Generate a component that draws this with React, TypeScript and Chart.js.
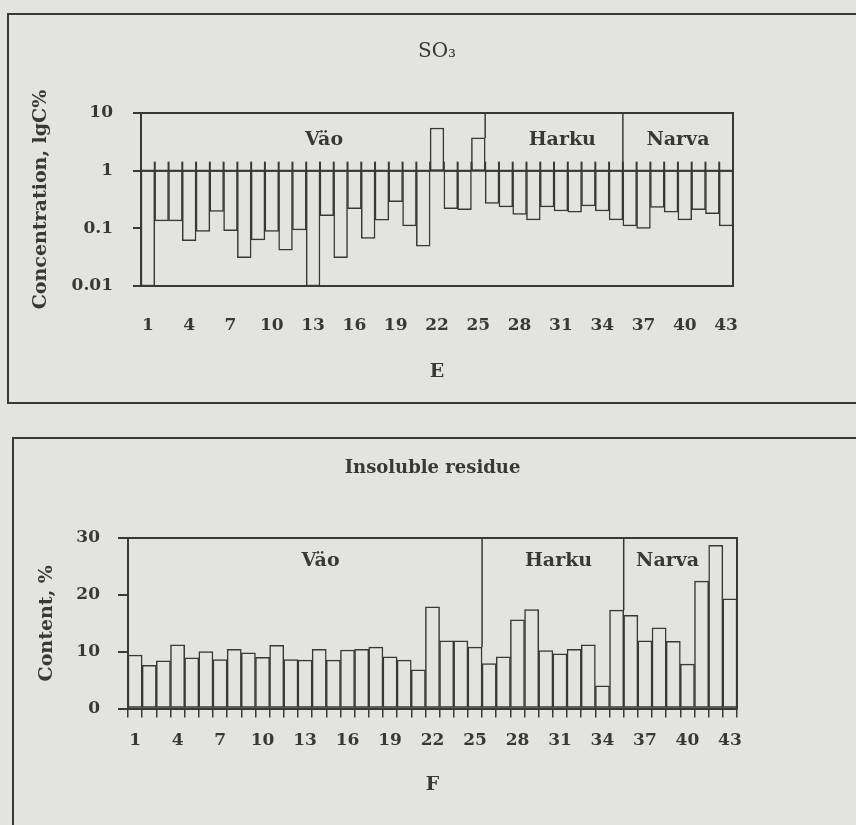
import React, { useEffect, useRef } from 'react';
import { Chart, registerables } from 'chart.js';

Chart.register(...registerables);

// ---------- data ----------
const categories = [
  '1', '2', '3', '4', '5', '6', '7', '8', '9', '10',
  '11', '12', '13', '14', '15', '16', '17', '18', '19', '20',
  '21', '22', '23', '24', '25', '26', '27', '28', '29', '30',
  '31', '32', '33', '34', '35', '36', '37', '38', '39', '40',
  '41', '42', '43',
];
const labelEvery = 3;

const so3Values = [
  0.01, 0.135, 0.135, 0.061, 0.088, 0.196, 0.091, 0.031, 0.063, 0.088,
  0.042, 0.094, 0.01, 0.165, 0.031, 0.22, 0.067, 0.138, 0.29, 0.11,
  0.049, 5.5, 0.22, 0.21, 3.7, 0.27, 0.235, 0.175, 0.14, 0.235,
  0.2, 0.19, 0.245, 0.2, 0.14, 0.11, 0.1, 0.23, 0.19, 0.14,
  0.21, 0.18, 0.11,
];
const so3Base = 1;
const so3TickValues = [0.01, 0.1, 1, 10];
const so3TickLabels = ['0.01', '0.1', '1', '10'];

const residueValues = [
  9.4, 7.6, 8.4, 11.2, 8.9, 10.0, 8.6, 10.4, 9.8, 9.0,
  11.1, 8.6, 8.5, 10.4, 8.5, 10.3, 10.4, 10.8, 9.1, 8.5,
  6.8, 17.9, 11.9, 11.9, 10.8, 7.9, 9.1, 15.6, 17.4, 10.2,
  9.6, 10.4, 11.2, 4.0, 17.3, 16.4, 11.9, 14.2, 11.8, 7.8,
  22.4, 28.7, 19.3,
];
const residueTickValues = [0, 10, 20, 30];

const zoneNames = ['Väo', 'Harku', 'Narva'];
const zoneStarts = [0, 25, 35]; // index of the first sample of each zone

// ---------- style ----------
const PAPER = '#e3e3e0';
const INK = '#383838';
const SERIF = "'DejaVu Serif', 'Liberation Serif', serif";
const tickFont = { family: SERIF, size: 17, weight: 'bold' as const };
const titleFont = { family: SERIF, size: 19, weight: 'bold' as const };

function panelPlugin(opts: {
  title: string;
  titleFont: string;
  titleGap: number;
  base: number | null;
  values: number[];
  labelGap: number;
  labelAt: number[]; // label anchor, in category units
  tickUp: number;
}) {
  return {
    id: 'panelDecor',
    afterDatasetsDraw(chart: any) {
      const { ctx, chartArea: a, scales } = chart;
      const y = scales.y;
      const meta = chart.getDatasetMeta(0);
      const edges: number[] = [];
      meta.data.forEach((el: any, i: number) => {
        if (i === 0) edges.push(el.x - el.width / 2);
        edges.push(el.x + el.width / 2);
      });
      const step = (edges[edges.length - 1] - edges[0]) / (edges.length - 1);
      const line = (x1: number, y1: number, x2: number, y2: number) => {
        ctx.beginPath();
        ctx.moveTo(x1, y1);
        ctx.lineTo(x2, y2);
        ctx.stroke();
      };
      ctx.save();
      ctx.strokeStyle = INK;
      ctx.lineWidth = 2;
      ctx.strokeRect(a.left, a.top, a.right - a.left, a.bottom - a.top);
      if (opts.base !== null) {
        const yb = y.getPixelForValue(opts.base);
        line(a.left, yb, a.right, yb);
        edges.forEach((x) => line(x, yb, x, yb - opts.tickUp));
      }
      ctx.lineWidth = 1.5;
      zoneStarts.forEach((s) => {
        if (s === 0) return;
        let v = Math.max(opts.values[s - 1], opts.values[s]);
        if (opts.base !== null) v = Math.max(v, opts.base);
        line(edges[s], a.top, edges[s], y.getPixelForValue(v));
      });
      ctx.fillStyle = INK;
      ctx.textAlign = 'center';
      ctx.textBaseline = 'middle';
      ctx.font = `bold 19px ${SERIF}`;
      zoneNames.forEach((n, z) => {
        ctx.fillText(n, edges[0] + (opts.labelAt[z] + 0.5) * step, a.top + opts.labelGap);
      });
      ctx.font = opts.titleFont;
      ctx.fillText(opts.title, (a.left + a.right) / 2, a.top - opts.titleGap);
      ctx.restore();
    },
  };
}

export default function App() {
  const topRef = useRef<HTMLCanvasElement>(null);
  const botRef = useRef<HTMLCanvasElement>(null);

  useEffect(() => {
    const barStyle = {
      backgroundColor: PAPER,
      borderColor: INK,
      borderWidth: 1.5,
      borderSkipped: false,
      barPercentage: 1,
      categoryPercentage: 1,
    };

    const top = new Chart(topRef.current!, {
      type: 'bar',
      data: {
        labels: categories,
        datasets: [
          {
            ...barStyle,
            data: so3Values.map((v) => [so3Base, v]) as any,
          },
        ],
      },
      options: {
        responsive: false,
        animation: false,
        layout: { padding: { top: 99, right: 93, left: 0, bottom: 0 } },
        plugins: { legend: { display: false }, title: { display: false }, tooltip: { enabled: false } },
        scales: {
          x: {
            type: 'category',
            offset: true,
            grid: { drawOnChartArea: false, drawTicks: false },
            border: { display: true, color: INK, width: 2 },
            ticks: {
              autoSkip: false,
              maxRotation: 0,
              padding: 29,
              color: INK,
              font: tickFont,
              callback: (_v: any, i: number) => (i % labelEvery === 0 ? categories[i] : ''),
            },
            title: { display: true, text: 'E', color: INK, font: titleFont, padding: { top: 0, bottom: 19 } },
            afterFit: (s: any) => {
              s.height = 116;
            },
          },
          y: {
            type: 'logarithmic',
            min: 0.01,
            max: 10,
            afterBuildTicks: (s: any) => {
              s.ticks = so3TickValues.map((value) => ({ value }));
            },
            grid: { drawOnChartArea: false, drawTicks: true, tickLength: 8, color: INK, lineWidth: 2 },
            border: { display: true, color: INK, width: 2 },
            ticks: {
              padding: 20,
              color: INK,
              font: tickFont,
              callback: (_v: any, i: number) => so3TickLabels[i],
            },
            title: {
              display: true,
              text: 'Concentration, lgC%',
              color: INK,
              font: titleFont,
              padding: { top: 22, bottom: 0 },
            },
            afterFit: (s: any) => {
              s.width = 133;
            },
          },
        },
      },
      plugins: [
        panelPlugin({
          title: 'SO₃',
          titleFont: `20px ${SERIF}`,
          titleGap: 61,
          base: so3Base,
          values: so3Values,
          labelGap: 27,
          labelAt: [12.8, 30.1, 38.5],
          tickUp: 9,
        }),
      ],
    } as any);

    const bot = new Chart(botRef.current!, {
      type: 'bar',
      data: {
        labels: categories,
        datasets: [{ ...barStyle, data: residueValues }],
      },
      options: {
        responsive: false,
        animation: false,
        layout: { padding: { top: 101, right: 63, left: 0, bottom: 0 } },
        plugins: { legend: { display: false }, title: { display: false }, tooltip: { enabled: false } },
        scales: {
          x: {
            type: 'category',
            offset: true,
            grid: {
              offset: true,
              drawOnChartArea: false,
              drawTicks: true,
              tickLength: 9,
              color: INK,
              lineWidth: 1.5,
            },
            border: { display: true, color: INK, width: 2 },
            ticks: {
              autoSkip: false,
              maxRotation: 0,
              padding: 13,
              color: INK,
              font: tickFont,
              callback: (_v: any, i: number) => (i % labelEvery === 0 ? categories[i] : ''),
            },
            title: { display: true, text: 'F', color: INK, font: titleFont, padding: { top: 0, bottom: 29 } },
            afterFit: (s: any) => {
              s.height = 116.5;
            },
          },
          y: {
            type: 'linear',
            min: 0,
            max: 30,
            afterBuildTicks: (s: any) => {
              s.ticks = residueTickValues.map((value) => ({ value }));
            },
            grid: { drawOnChartArea: false, drawTicks: true, tickLength: 10, color: INK, lineWidth: 2 },
            border: { display: true, color: INK, width: 2 },
            ticks: { padding: 18, color: INK, font: tickFont },
            title: {
              display: true,
              text: 'Content, %',
              color: INK,
              font: titleFont,
              padding: { top: 24, bottom: 0 },
            },
            afterFit: (s: any) => {
              s.width = 116;
            },
          },
        },
      },
      plugins: [
        panelPlugin({
          title: 'Insoluble residue',
          titleFont: `bold 18px ${SERIF}`,
          titleGap: 70,
          base: null,
          values: residueValues,
          labelGap: 23,
          labelAt: [13.1, 29.9, 37.6],
          tickUp: 0,
        }),
      ],
    } as any);

    return () => {
      top.destroy();
      bot.destroy();
    };
  }, []);

  return (
    <div
      style={{
        position: 'absolute',
        left: 0,
        top: 0,
        width: 856,
        height: 825,
        overflow: 'hidden',
        background: PAPER,
      }}
    >
      <div
        style={{
          position: 'absolute',
          left: 7,
          top: 13,
          width: 900,
          height: 387,
          border: `2px solid ${INK}`,
        }}
      />
      <div
        style={{
          position: 'absolute',
          left: 12,
          top: 437,
          width: 900,
          height: 500,
          border: `2px solid ${INK}`,
        }}
      />
      <canvas ref={topRef} width={818} height={388} style={{ position: 'absolute', left: 8, top: 14 }} />
      <canvas ref={botRef} width={788} height={388} style={{ position: 'absolute', left: 12, top: 437 }} />
    </div>
  );
}
